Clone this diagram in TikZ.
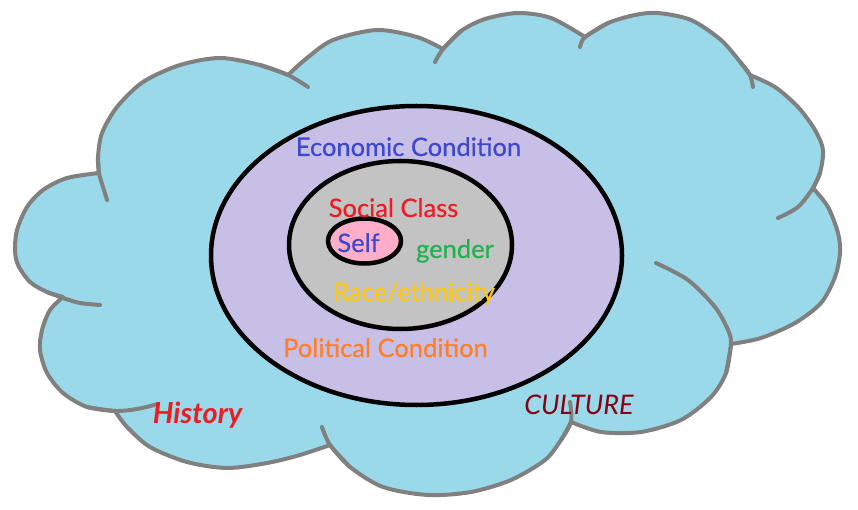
\documentclass[tikz,border=0pt]{standalone}
\usepackage{fontspec}
\setmainfont{Lato}
\newfontfamily\lblfont{Lato}[FakeBold=0.5]
\definecolor{cloudblue}{RGB}{153,217,234}
\definecolor{cloudgray}{RGB}{128,128,128}
\definecolor{lavender}{RGB}{200,191,231}
\definecolor{ringgray}{RGB}{195,195,195}
\definecolor{selfpink}{RGB}{255,174,201}
\definecolor{txtblue}{RGB}{63,72,204}
\definecolor{txtred}{RGB}{237,28,36}
\definecolor{txtgreen}{RGB}{34,177,76}
\definecolor{txtyellow}{RGB}{255,201,14}
\definecolor{txtorange}{RGB}{255,127,39}
\definecolor{txtmaroon}{RGB}{136,0,21}
\begin{document}
\begin{tikzpicture}[x=1pt,y=-1pt,
  ring/.style={draw=black,line width=4.5pt},
  edge/.style={draw=cloudgray,line width=4pt,line cap=round},
  lbl/.style={font=\lblfont\fontsize{25.5}{30}\selectfont,inner sep=0pt,anchor=base}]
\useasboundingbox (0,0) rectangle (858,510);
% cloud outline, lobe by lobe
\filldraw[fill=cloudblue,draw=cloudgray,line width=4pt,line join=round]
  plot[smooth] coordinates {(99,173) (98,157) (102,133) (117,107) (143,82) (180,65) (220,58) (260,65) (288,75)}
  -- plot[smooth] coordinates {(288,75) (307,58) (333,40) (377,30) (417,37) (443,49)}
  -- plot[smooth] coordinates {(443,49) (461,31) (485,19) (518,13) (551,18) (585,37)}
  -- plot[smooth] coordinates {(585,37) (608,23) (635,15) (658,13) (691,20) (721,40) (741,63) (750,75)}
  -- plot[smooth] coordinates {(750,75) (775,87) (798,107) (815,130) (823,150) (820,173) (813,188)}
  -- plot[smooth] coordinates {(813,188) (828,207) (838,233) (840,253) (835,277) (821,303) (795,323) (761,338) (731,344)}
  -- plot[smooth] coordinates {(731,344) (726,373) (711,397) (681,420) (641,432) (601,432) (571,422)}
  -- plot[smooth] coordinates {(571,422) (561,440) (545,460) (511,480) (471,492) (428,495) (383,487) (350,467) (330,445)}
  -- plot[smooth] coordinates {(330,445) (300,455) (267,463) (227,468) (187,462) (150,447) (127,427) (115,411)}
  -- plot[smooth] coordinates {(115,411) (87,407) (63,393) (47,373) (40,350) (42,330) (50,310) (63,297)}
  -- plot[smooth] coordinates {(63,297) (47,292) (30,282) (18,265) (15,250) (17,230) (27,207) (43,190) (67,178) (99,173)}
  -- cycle;
% inner spurs
\draw[edge] plot[smooth] coordinates {(98,157) (99,173) (103,187) (107,200)};
\draw[edge] plot[smooth] coordinates {(260,65) (288,75) (308,87)};
\draw[edge] plot[smooth] coordinates {(461,31) (443,49) (435,62)};
\draw[edge] plot[smooth] coordinates {(608,23) (585,37) (580,47)};
\draw[edge] plot[smooth] coordinates {(741,63) (750,75) (753,87)};
\draw[edge] plot[smooth] coordinates {(820,173) (813,188) (798,207) (778,218)};
\draw[edge] plot[smooth] coordinates {(726,373) (731,344) (728,330) (715,307) (688,280) (656,263)};
\draw[edge] plot[smooth] coordinates {(561,440) (571,422) (570,402)};
\draw[edge] plot[smooth] coordinates {(350,467) (330,445) (322,427)};
\draw[edge] plot[smooth] coordinates {(87,407) (115,411) (137,409) (158,404)};
\draw[edge] plot[smooth] coordinates {(47,292) (63,298) (80,303) (100,305)};
% rings
\filldraw[ring,fill=lavender] (416.5,255.5) ellipse [x radius=205.5pt,y radius=149.5pt];
\filldraw[ring,fill=ringgray] (400.5,245) ellipse [x radius=111.5pt,y radius=84pt];
\filldraw[ring,fill=selfpink] (364.5,241) ellipse [x radius=36.5pt,y radius=22.5pt];
% labels
\node[lbl,text=txtblue] (econ) at (408.5,156) {Economic Condition};
\node[lbl,text=txtred] (social) at (393.5,217) {Social Class};
\node[lbl,text=txtblue] (self) at (358.5,252) {Self};
\node[lbl,text=txtgreen] (gender) at (455,258) {gender};
\node[lbl,text=txtyellow] (race) at (414,301) {Race/ethnicity};
\node[lbl,text=txtorange] (polit) at (385.5,357) {Political Condition};
\node[lbl,text=txtred,font=\fontsize{29}{34}\selectfont\bfseries\itshape] (hist) at (197.5,423) {History};
\node[lbl,text=txtmaroon,font=\fontsize{27}{32}\selectfont\itshape] (cult) at (579,414) {CULTURE};
\end{tikzpicture}
\end{document}
